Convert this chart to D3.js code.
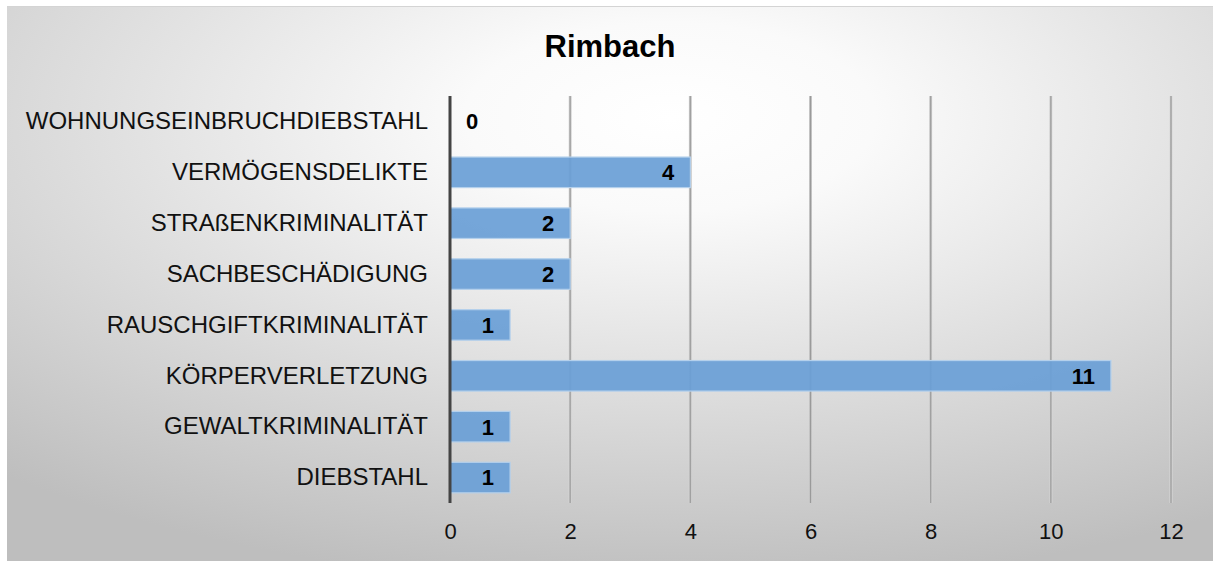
<!DOCTYPE html>
<html>
<head>
<meta charset="utf-8">
<script src="https://cdn.jsdelivr.net/npm/d3@7"></script>
<style>
  body { margin: 0; background: #fff; }
  svg { display: block; font-family: "Liberation Sans", Arial, sans-serif; }
</style>
</head>
<body>
<div id="chart"></div>
<script>
// data
const categories = ["WOHNUNGSEINBRUCHDIEBSTAHL", "VERMÖGENSDELIKTE", "STRAßENKRIMINALITÄT",
  "SACHBESCHÄDIGUNG", "RAUSCHGIFTKRIMINALITÄT", "KÖRPERVERLETZUNG", "GEWALTKRIMINALITÄT", "DIEBSTAHL"]
const values = [0, 4, 2, 2, 1, 11, 1, 1]
const xTicks = [0, 2, 4, 6, 8, 10, 12]
const title = "Rimbach"

let W = 1213, H = 561
let box = {x: 7, y: 6, w: 1206, h: 555}
let margin = {top: 96, left: 450, right: 42, bottom: 58}

let svg = d3.select("#chart").append("svg")
    .attr("width", W)
    .attr("height", H)

let defs = svg.append("defs")
let grad = defs.append("radialGradient")
    .attr("id", "bg")
    .attr("cx", "0.55").attr("cy", "0.2")
    .attr("fx", "0.55").attr("fy", "0.2")
    .attr("r", "0.85")
grad.append("stop").attr("offset", "0").attr("stop-color", "#ffffff")
grad.append("stop").attr("offset", "0.2").attr("stop-color", "#fafafa")
grad.append("stop").attr("offset", "1").attr("stop-color", "#bebebe")

let gridGrad = defs.append("linearGradient").attr("id", "gridline")
    .attr("x1", "0").attr("x2", "1").attr("y1", "0").attr("y2", "0")
gridGrad.append("stop").attr("offset", "0").attr("stop-color", "#d8d8d8")
gridGrad.append("stop").attr("offset", "0.5").attr("stop-color", "#9a9a9a")
gridGrad.append("stop").attr("offset", "1").attr("stop-color", "#d8d8d8")

svg.append("rect")
    .attr("x", box.x).attr("y", box.y)
    .attr("width", box.w).attr("height", box.h)
    .attr("fill", "url(#bg)")
svg.append("line")
    .attr("x1", box.x).attr("x2", box.x + box.w)
    .attr("y1", box.y + 0.5).attr("y2", box.y + 0.5)
    .attr("stroke", "#d4d4d4")

svg.append("text")
    .attr("x", box.x + box.w / 2)
    .attr("y", 57)
    .attr("text-anchor", "middle")
    .style("font-size", "31px")
    .style("font-weight", "bold")
    .text(title)

let x = d3.scaleLinear()
    .domain([0, 12])
    .range([margin.left, W - margin.right])

let y = d3.scaleBand()
    .domain(categories)
    .range([margin.top, H - margin.bottom])
    .paddingInner(0.4)
    .paddingOuter(0.2)

// vertical gridlines
svg.append("g")
    .selectAll("rect")
    .data(xTicks.filter(d => d > 0))
    .join("rect")
    .attr("x", d => x(d) - 1.5)
    .attr("y", margin.top)
    .attr("width", 3)
    .attr("height", H - margin.bottom - margin.top)
    .attr("fill", "url(#gridline)")

// bars
svg.append("g")
    .selectAll("rect")
    .data(values)
    .join("rect")
    .attr("x", x(0))
    .attr("y", (d, i) => y(categories[i]))
    .attr("width", d => x(d) - x(0))
    .attr("height", y.bandwidth())
    .attr("fill", "#6a9fd6")
    .attr("fill-opacity", 0.93)
    .attr("stroke", "#b4d0ec")
    .attr("stroke-width", 1.2)

// value labels
svg.append("g")
    .selectAll("text")
    .data(values)
    .join("text")
    .attr("x", d => d == 0 ? x(0) + 16 : x(d) - 16)
    .attr("y", (d, i) => y(categories[i]) + y.bandwidth() / 2)
    .attr("dy", "0.36em")
    .attr("text-anchor", d => d == 0 ? "start" : "end")
    .style("font-size", "22px")
    .style("font-weight", "bold")
    .text(d => d)

// category axis
let yAxis = svg.append("g")
    .attr("transform", "translate(" + x(0) + ",0)")
    .call(d3.axisLeft(y).tickSize(0).tickPadding(22))
yAxis.select(".domain")
    .attr("stroke", "#444")
    .attr("stroke-width", 3)
    .attr("d", "M0," + margin.top + "V" + (H - margin.bottom))
yAxis.selectAll("text")
    .style("font-size", "24px")
    .style("font-family", "Liberation Sans, Arial, sans-serif")
    .attr("fill", "#111")

// value axis
let xAxis = svg.append("g")
    .attr("transform", "translate(0," + (H - margin.bottom) + ")")
    .call(d3.axisBottom(x).tickValues(xTicks).tickSize(0).tickPadding(20))
xAxis.select(".domain").remove()
xAxis.selectAll("text")
    .style("font-size", "22px")
    .style("font-family", "Liberation Sans, Arial, sans-serif")
    .attr("fill", "#111")
</script>
</body>
</html>
